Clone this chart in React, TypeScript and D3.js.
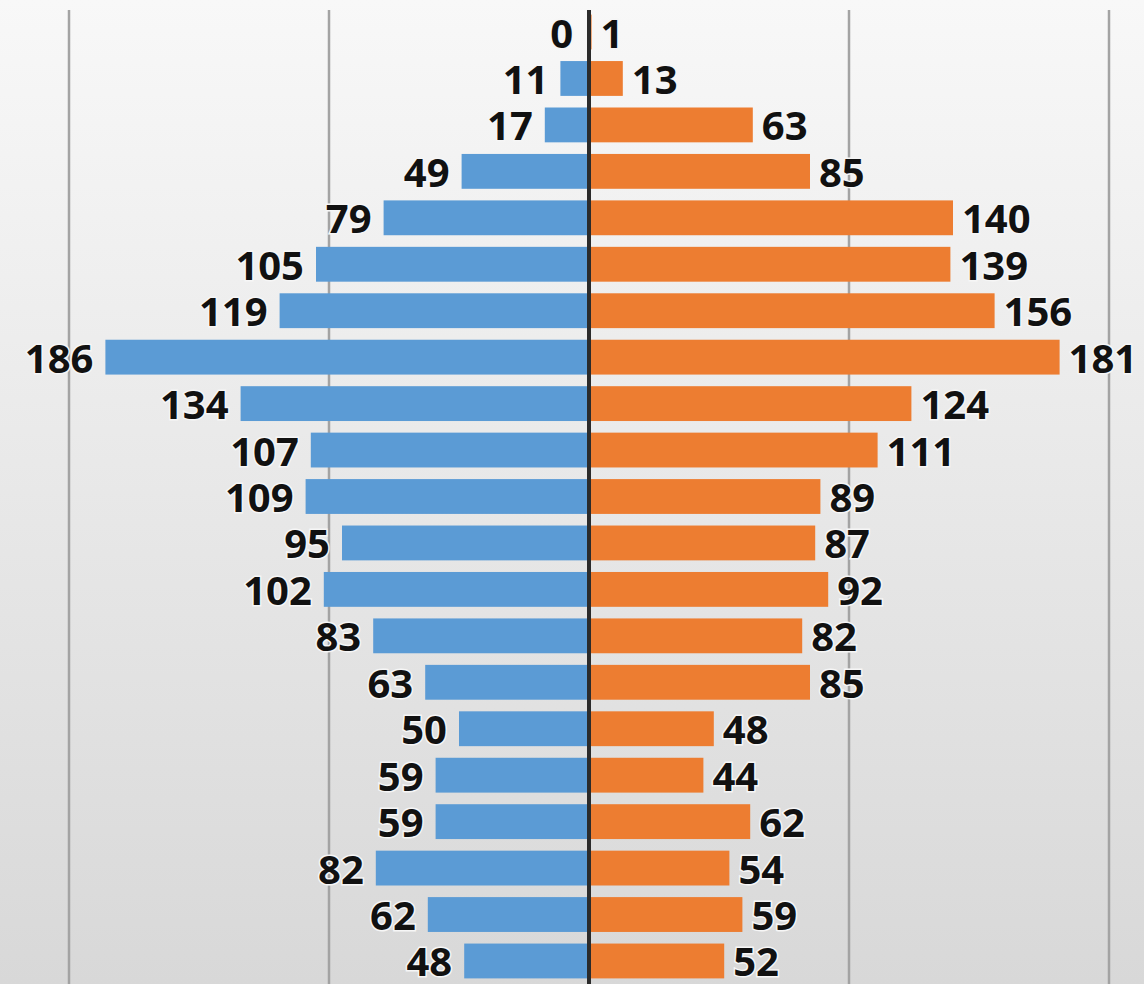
import React from "react";
import * as d3 from "d3";

// one row per age band, top to bottom
const rows = d3.range(21);
const leftValues = [0, 11, 17, 49, 79, 105, 119, 186, 134, 107, 109, 95, 102, 83, 63, 50, 59, 59, 82, 62, 48];
const rightValues = [1, 13, 63, 85, 140, 139, 156, 181, 124, 111, 89, 87, 92, 82, 85, 48, 44, 62, 54, 59, 52];
const gridTicks = [-200, -100, 100, 200];

const W = 1144;
const H = 984;

const App = () => {
  const x = d3.scaleLinear().domain([-200, 200]).range([69, 1109]);

  const y = d3
    .scaleBand<number>()
    .domain(rows)
    .range([8.8, 984.2])
    .paddingInner(0.25)
    .paddingOuter(0.125);

  const labelStyle: React.CSSProperties = {
    fontFamily: "'Open Sans', sans-serif",
    fontWeight: 700,
    fontSize: 40,
    fill: "#111",
    stroke: "#f6f6f6",
    strokeWidth: 3,
    paintOrder: "stroke",
  };

  return (
    <svg
      width={W}
      height={H}
      style={{ position: "absolute", left: 0, top: 0, display: "block" }}
    >
      <defs>
        <linearGradient id="bg" x1="0" y1="0" x2="0" y2="1">
          <stop offset="0%" stopColor="#f8f8f8" />
          <stop offset="100%" stopColor="#d8d8d8" />
        </linearGradient>
      </defs>
      <rect x={0} y={0} width={W} height={H} fill="url(#bg)" />

      {/* gridlines */}
      {gridTicks.map((t) => (
        <line
          key={t}
          x1={x(t)}
          x2={x(t)}
          y1={10}
          y2={H}
          stroke="#a3a3a3"
          strokeWidth={2.5}
        />
      ))}

      {/* left (blue) bars */}
      {rows.map((i) => (
        <rect
          key={"l" + i}
          x={x(-leftValues[i])}
          y={y(i)}
          width={x(0) - x(-leftValues[i])}
          height={y.bandwidth()}
          fill="#5b9bd5"
        />
      ))}

      {/* right (orange) bars */}
      {rows.map((i) => (
        <rect
          key={"r" + i}
          x={x(0)}
          y={y(i)}
          width={x(rightValues[i]) - x(0)}
          height={y.bandwidth()}
          fill="#ed7d31"
        />
      ))}

      {/* center axis */}
      <line x1={x(0)} x2={x(0)} y1={10} y2={H} stroke="#2b2b2b" strokeWidth={4} />

      {rows.map((i) => (
        <text
          key={"lt" + i}
          x={x(-leftValues[i]) - (leftValues[i] === 0 ? 16 : 12)}
          y={(y(i) ?? 0) + y.bandwidth() / 2}
          textAnchor="end"
          dominantBaseline="central"
          style={labelStyle}
        >
          {leftValues[i]}
        </text>
      ))}

      {rows.map((i) => (
        <text
          key={"rt" + i}
          x={x(rightValues[i]) + 9}
          y={(y(i) ?? 0) + y.bandwidth() / 2}
          textAnchor="start"
          dominantBaseline="central"
          style={labelStyle}
        >
          {rightValues[i]}
        </text>
      ))}
    </svg>
  );
};

export default App;
